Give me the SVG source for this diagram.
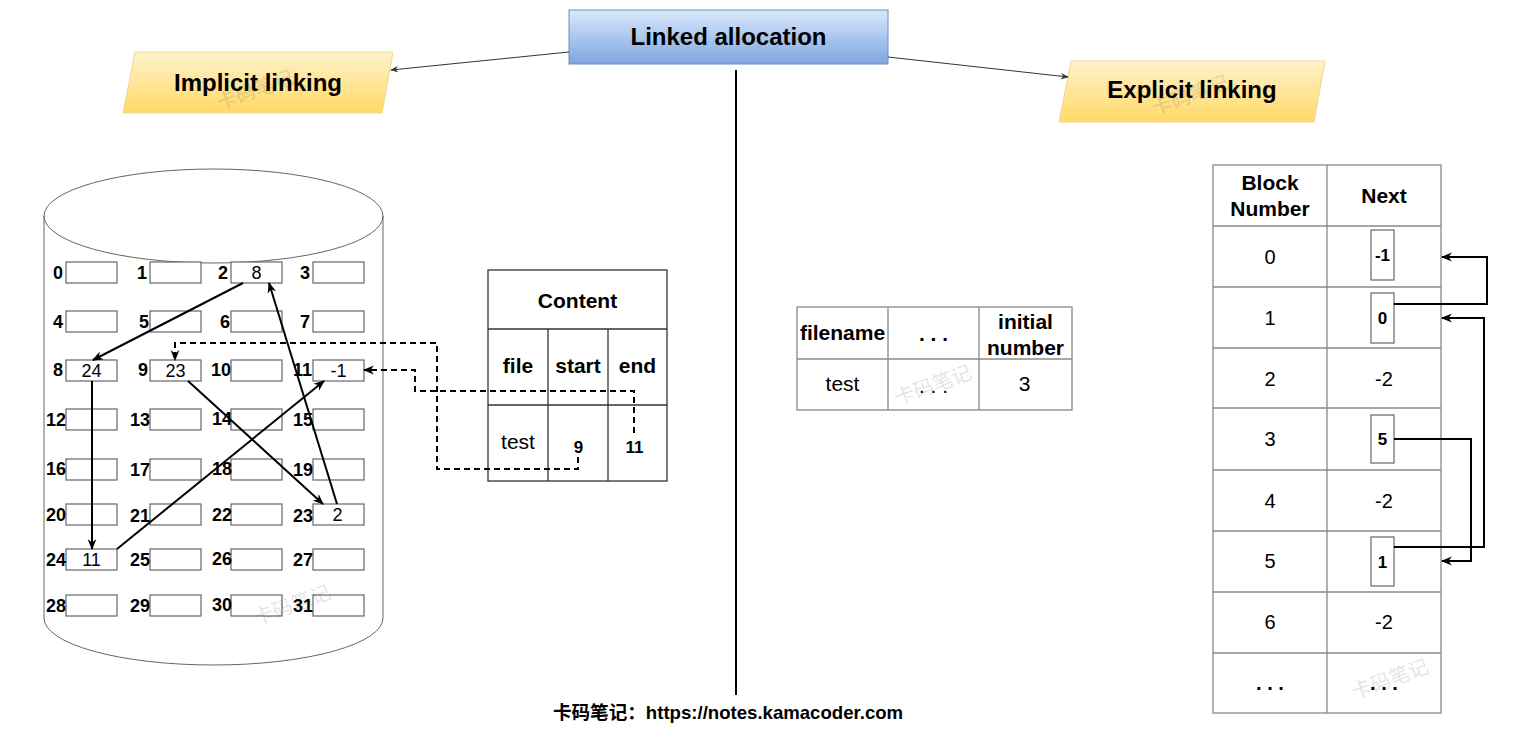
<svg xmlns="http://www.w3.org/2000/svg" width="1528" height="735" viewBox="0 0 1528 735">
<style>
text{font-family:"Liberation Sans",Arial,sans-serif;fill:#000}
.b{font-weight:bold}
.lab{font-size:18px;font-weight:bold;text-anchor:end}
.val{font-size:18px;text-anchor:middle}
.cell{fill:#fff;stroke:#666;stroke-width:1.2}
.c{text-anchor:middle}
.wm{font-family:"Noto Sans CJK SC",sans-serif;font-size:20px;fill:#000;opacity:0.1;text-anchor:middle}
.ln{fill:none;stroke:#000;stroke-width:2}
.dl{fill:none;stroke:#000;stroke-width:2;stroke-dasharray:6 4}
.tl{fill:none;stroke:#333;stroke-width:1}
.tb{fill:#fff;stroke:#333;stroke-width:1.3}
.tg{fill:#fff;stroke:#888;stroke-width:1.3}
</style>
<defs>
<linearGradient id="gBlue" x1="0" y1="0" x2="0" y2="1"><stop offset="0" stop-color="#dae8fc"/><stop offset="1" stop-color="#7ea6e0"/></linearGradient>
<linearGradient id="gYel" x1="0" y1="0" x2="0" y2="1"><stop offset="0" stop-color="#fff2cc"/><stop offset="1" stop-color="#ffd966"/></linearGradient>
<marker id="ah" viewBox="0 0 10 10" refX="9" refY="5" markerWidth="11" markerHeight="11" markerUnits="userSpaceOnUse" orient="auto"><path d="M0,1 L10,5 L0,9 L3,5 z" fill="#000"/></marker>
<marker id="ahs" viewBox="0 0 10 10" refX="9" refY="5" markerWidth="8" markerHeight="8" markerUnits="userSpaceOnUse" orient="auto"><path d="M0,1 L10,5 L0,9 L3,5 z" fill="#333"/></marker>
</defs>

<g id="title">
<rect x="569" y="10" width="319" height="54" fill="url(#gBlue)" stroke="#6c8ebf" stroke-width="1"/>
<text x="728.5" y="45" class="b c" font-size="24">Linked allocation</text>
</g>
<g id="implicit">
<polygon points="135,52 393,52 382,113 123,113" fill="url(#gYel)" stroke="#f0d890" stroke-width="1"/>
<text x="258" y="91" class="b c" font-size="24">Implicit linking</text>
</g>
<g id="explicit">
<polygon points="1071,61 1325,61 1314,122 1059,122" fill="url(#gYel)" stroke="#f0d890" stroke-width="1"/>
<text x="1192" y="98" class="b c" font-size="24">Explicit linking</text>
</g>

<g id="divider">
<line x1="736" y1="70" x2="736" y2="695" stroke="#000" stroke-width="2"/>
</g>

<g id="disk">
<path d="M44,216 A169.5,47 0 0 1 383,216 L383,618 A169.5,47 0 0 1 44,618 Z" fill="#fff" stroke="#666" stroke-width="1"/>
<path d="M44,216 A169.5,47 0 0 0 383,216" fill="none" stroke="#666" stroke-width="1"/>
</g>

<g id="blocks">
<rect class="cell" x="66" y="262" width="51" height="21"/><text class="lab" x="63" y="279">0</text>
<rect class="cell" x="150" y="262" width="51" height="21"/><text class="lab" x="147" y="279">1</text>
<rect class="cell" x="231" y="262" width="51" height="21"/><text class="lab" x="228" y="279">2</text><text class="val" x="256.5" y="279">8</text>
<rect class="cell" x="313" y="262" width="51" height="21"/><text class="lab" x="310" y="279">3</text>
<rect class="cell" x="66" y="311" width="51" height="21"/><text class="lab" x="63" y="328">4</text>
<rect class="cell" x="150" y="311" width="51" height="21"/><text class="lab" x="149" y="328">5</text>
<rect class="cell" x="231" y="311" width="51" height="21"/><text class="lab" x="230" y="328">6</text>
<rect class="cell" x="313" y="311" width="51" height="21"/><text class="lab" x="310" y="328">7</text>
<rect class="cell" x="66" y="360" width="51" height="21"/><text class="lab" x="63" y="376">8</text><text class="val" x="91.5" y="377">24</text>
<rect class="cell" x="150" y="360" width="51" height="21"/><text class="lab" x="148" y="376">9</text><text class="val" x="175.5" y="377">23</text>
<rect class="cell" x="231" y="360" width="51" height="21"/><text class="lab" x="231" y="376">10</text>
<rect class="cell" x="313" y="360" width="51" height="21"/><text class="lab" x="312" y="376">11</text><text class="val" x="338.5" y="377">-1</text>
<rect class="cell" x="66" y="409" width="51" height="21"/><text class="lab" x="66" y="426">12</text>
<rect class="cell" x="150" y="409" width="51" height="21"/><text class="lab" x="150" y="426">13</text>
<rect class="cell" x="231" y="409" width="51" height="21"/><text class="lab" x="232" y="425">14</text>
<rect class="cell" x="313" y="409" width="51" height="21"/><text class="lab" x="313" y="426">15</text>
<rect class="cell" x="66" y="459" width="51" height="21"/><text class="lab" x="66" y="475">16</text>
<rect class="cell" x="150" y="459" width="51" height="21"/><text class="lab" x="150" y="476">17</text>
<rect class="cell" x="231" y="459" width="51" height="21"/><text class="lab" x="232" y="475">18</text>
<rect class="cell" x="313" y="459" width="51" height="21"/><text class="lab" x="313" y="476">19</text>
<rect class="cell" x="66" y="504" width="51" height="21"/><text class="lab" x="66" y="521">20</text>
<rect class="cell" x="150" y="504" width="51" height="21"/><text class="lab" x="150" y="522">21</text>
<rect class="cell" x="231" y="504" width="51" height="21"/><text class="lab" x="232" y="521">22</text>
<rect class="cell" x="313" y="504" width="51" height="21"/><text class="lab" x="313" y="522">23</text><text class="val" x="337.5" y="521">2</text>
<rect class="cell" x="66" y="549" width="51" height="21"/><text class="lab" x="66" y="566">24</text><text class="val" x="91.5" y="566">11</text>
<rect class="cell" x="150" y="549" width="51" height="21"/><text class="lab" x="150" y="566">25</text>
<rect class="cell" x="231" y="549" width="51" height="21"/><text class="lab" x="232" y="565">26</text>
<rect class="cell" x="313" y="549" width="51" height="21"/><text class="lab" x="313" y="566">27</text>
<rect class="cell" x="66" y="595" width="51" height="21"/><text class="lab" x="66" y="612">28</text>
<rect class="cell" x="150" y="595" width="51" height="21"/><text class="lab" x="150" y="612">29</text>
<rect class="cell" x="231" y="595" width="51" height="21"/><text class="lab" x="232" y="611">30</text>
<rect class="cell" x="313" y="595" width="51" height="21"/><text class="lab" x="313" y="612">31</text>
</g>

<g id="content-table">
<rect class="tb" x="488" y="270" width="179" height="211"/>
<line class="tb" x1="488" y1="329" x2="667" y2="329"/>
<line class="tb" x1="488" y1="405" x2="667" y2="405"/>
<line class="tb" x1="548" y1="329" x2="548" y2="481"/>
<line class="tb" x1="608" y1="329" x2="608" y2="481"/>
<text x="577.5" y="308" class="b c" font-size="21">Content</text>
<text x="518" y="373" class="b c" font-size="21">file</text>
<text x="578" y="373" class="b c" font-size="21">start</text>
<text x="637.5" y="373" class="b c" font-size="21">end</text>
<text x="518" y="449" class="c" font-size="21">test</text>
<text x="578.5" y="453" class="b c" font-size="17">9</text>
<text x="634.5" y="453" class="b c" font-size="17">11</text>
</g>

<g id="dir-table">
<rect class="tg" x="797" y="307" width="275" height="103"/>
<line class="tg" x1="797" y1="359" x2="1072" y2="359"/>
<line class="tg" x1="888" y1="307" x2="888" y2="410"/>
<line class="tg" x1="979" y1="307" x2="979" y2="410"/>
<text x="842.5" y="340" class="b c" font-size="21">filename</text>
<text x="933.5" y="341" class="b c" font-size="21">. . .</text>
<text x="1025.5" y="329" class="b c" font-size="21">initial</text>
<text x="1025.5" y="355" class="b c" font-size="21">number</text>
<text x="842.5" y="391" class="c" font-size="21">test</text>
<text x="933.5" y="393" class="c" font-size="21">. . .</text>
<text x="1024.5" y="391" class="c" font-size="21">3</text>
</g>

<g id="fat-table">
<rect class="tg" x="1213" y="165" width="228" height="548"/>
<line class="tg" x1="1327" y1="165" x2="1327" y2="713"/>
<line class="tg" x1="1213" y1="226" x2="1441" y2="226"/>
<line class="tg" x1="1213" y1="287" x2="1441" y2="287"/>
<line class="tg" x1="1213" y1="348" x2="1441" y2="348"/>
<line class="tg" x1="1213" y1="408" x2="1441" y2="408"/>
<line class="tg" x1="1213" y1="470" x2="1441" y2="470"/>
<line class="tg" x1="1213" y1="531" x2="1441" y2="531"/>
<line class="tg" x1="1213" y1="592" x2="1441" y2="592"/>
<line class="tg" x1="1213" y1="653" x2="1441" y2="653"/>
<text x="1270" y="190" class="b c" font-size="21">Block</text>
<text x="1270" y="216" class="b c" font-size="21">Number</text>
<text x="1384" y="203" class="b c" font-size="21">Next</text>
<text x="1270" y="264" class="c" font-size="20">0</text>
<text x="1270" y="325" class="c" font-size="20">1</text>
<text x="1270" y="386" class="c" font-size="20">2</text>
<text x="1384" y="386" class="c" font-size="20">-2</text>
<text x="1270" y="446" class="c" font-size="20">3</text>
<text x="1270" y="508" class="c" font-size="20">4</text>
<text x="1384" y="508" class="c" font-size="20">-2</text>
<text x="1270" y="568" class="c" font-size="20">5</text>
<text x="1270" y="629" class="c" font-size="20">6</text>
<text x="1384" y="629" class="c" font-size="20">-2</text>
<text x="1270" y="690" class="b c" font-size="20">. . .</text>
<text x="1384" y="690" class="b c" font-size="20">. . .</text>
<rect class="cell" x="1371" y="230" width="23" height="50"/><text x="1382.5" y="261" class="b c" font-size="17">-1</text>
<rect class="cell" x="1371" y="293" width="23" height="50"/><text x="1382.5" y="324" class="b c" font-size="17">0</text>
<rect class="cell" x="1371" y="415" width="23" height="48"/><text x="1382.5" y="445" class="b c" font-size="17">5</text>
<rect class="cell" x="1371" y="537" width="23" height="49"/><text x="1382.5" y="568" class="b c" font-size="17">1</text>
</g>

<g id="connectors">
<line class="tl" x1="569" y1="52" x2="391" y2="70" marker-end="url(#ahs)"/>
<line class="tl" x1="888" y1="57" x2="1068" y2="77" marker-end="url(#ahs)"/>
<line class="ln" x1="243" y1="283" x2="93" y2="360" marker-end="url(#ah)"/>
<line class="ln" x1="92" y1="381" x2="92" y2="549" marker-end="url(#ah)"/>
<line class="ln" x1="117" y1="549" x2="324" y2="381" marker-end="url(#ah)"/>
<line class="ln" x1="188" y1="381" x2="323" y2="504" marker-end="url(#ah)"/>
<line class="ln" x1="337" y1="504" x2="269" y2="283" marker-end="url(#ah)"/>
<polyline class="dl" points="578,457 578,469 437,469 437,343 175,343 175,360" marker-end="url(#ah)"/>
<polyline class="dl" points="634,433 634,391 415,391 415,370 364,370" marker-end="url(#ah)"/>
<polyline class="ln" points="1394,304 1487,304 1487,257 1442,257" marker-end="url(#ah)"/>
<polyline class="ln" points="1394,547 1484,547 1484,318 1442,318" marker-end="url(#ah)"/>
<polyline class="ln" points="1394,439 1471,439 1471,561 1442,561" marker-end="url(#ah)"/>
</g>

<g id="watermarks">
<text class="wm" x="255" y="97" transform="rotate(-20 255 90)">卡码笔记</text>
<text class="wm" x="292" y="612" transform="rotate(-20 292 605)">卡码笔记</text>
<text class="wm" x="933" y="392" transform="rotate(-20 933 385)">卡码笔记</text>
<text class="wm" x="1190" y="102" transform="rotate(-20 1190 95)">卡码笔记</text>
<text class="wm" x="1390" y="686" transform="rotate(-20 1390 679)">卡码笔记</text>
</g>

<g id="footer">
<text x="728" y="719" class="b c" font-size="18.6" style="font-family:'Liberation Sans','Noto Sans CJK SC',sans-serif">卡码笔记：https://notes.kamacoder.com</text>
</g>
</svg>
